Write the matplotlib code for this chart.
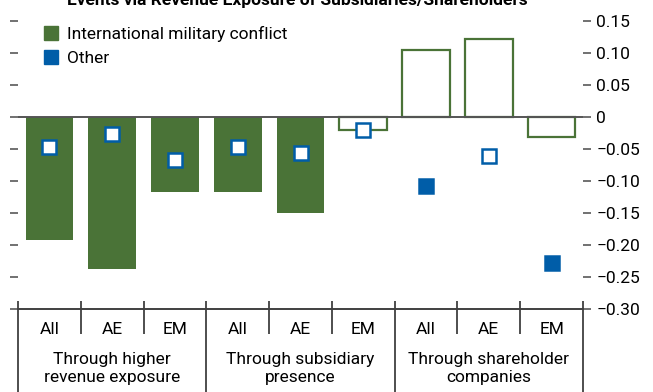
import numpy as np
import matplotlib
matplotlib.use("Agg")
import matplotlib.pyplot as plt
from matplotlib.lines import Line2D

plt.rcParams['font.family'] = ['Roboto', 'DejaVu Sans']

# data
categories = ["All", "AE", "EM", "All", "AE", "EM", "All", "AE", "EM"]
groups = ["Through higher\nrevenue exposure", "Through subsidiary\npresence", "Through shareholder\ncompanies"]
conflict = [-0.192, -0.238, -0.117, -0.117, -0.150, -0.020, 0.104, 0.122, -0.031]
conflict_sig = [True, True, True, True, True, False, False, False, False]
other = [-0.047, -0.027, -0.067, -0.048, -0.057, -0.020, -0.108, -0.062, -0.228]
other_sig = [False, False, False, False, False, False, True, False, True]
yticks = [0.15, 0.10, 0.05, 0, -0.05, -0.10, -0.15, -0.20, -0.25, -0.30]
ytick_labels = ["0.15", "0.10", "0.05", "0", "\u22120.05", "\u22120.10", "\u22120.15",
                "\u22120.20", "\u22120.25", "\u22120.30"]

green = "#4a7337"
blue = "#005da8"
axis_col = "#404040"
fs = 12.5

fig = plt.figure(figsize=(6.53, 3.92), dpi=100)
ax = fig.add_axes([18 / 653, 0.2125, 565 / 653, 0.751])

x = np.arange(len(categories))
ax.bar(x, conflict, width=0.76,
       color=[green if s else "white" for s in conflict_sig],
       edgecolor=[green if not s else "none" for s in conflict_sig],
       linewidth=1.6, zorder=2)
ax.axhline(0, color="#555555", lw=1.4, zorder=3)

for xi, v, s in zip(x, other, other_sig):
    ax.plot(xi, v, marker="s", ms=9.5, mfc=blue if s else "white", mec=blue,
            mew=1.8, zorder=4, linestyle="none")

ax.set_xlim(-0.5, 8.5)
ax.set_ylim(-0.30, 0.16)
ax.set_yticks(yticks)
ax.set_yticklabels(ytick_labels)
ax.set_xticks([])
ax.tick_params(axis="y", left=True, right=True, labelleft=False, labelright=True,
               length=5.5, width=1.3, color="#666666", labelsize=fs, pad=4)
for s in ["top", "left", "right"]:
    ax.spines[s].set_visible(False)
ax.spines["bottom"].set_color(axis_col)
ax.spines["bottom"].set_linewidth(1.4)

# separators under the axis
for b in np.arange(-0.5, 9, 1.0):
    low = -0.431 if b in (-0.5, 2.5, 5.5, 8.5) else -0.339
    ax.vlines(b, low, -0.2875, color=axis_col, lw=1.3, clip_on=False)

for xi, c in zip(x, categories):
    ax.text(xi, -0.333, c, ha="center", va="center", fontsize=fs)
for gi, g in enumerate(groups):
    ax.text(gi * 3 + 1, -0.394, g, ha="center", va="center", fontsize=fs,
            linespacing=1.25)

handles = [Line2D([], [], marker="s", ms=10, color=green, linestyle="none"),
           Line2D([], [], marker="s", ms=10, color=blue, linestyle="none")]
ax.legend(handles, ["International military conflict", "Other"], loc="upper left",
          bbox_to_anchor=(0.022, 1.0), frameon=False, fontsize=fs,
          handlelength=1.0, handletextpad=0.4, borderpad=0.2, labelspacing=0.5)

fig.text(0.455, 0.987, "Events via Revenue Exposure of Subsidiaries/Shareholders",
         ha="center", va="baseline", fontsize=fs, fontweight="bold")

fig.savefig("out.png", dpi=100)
